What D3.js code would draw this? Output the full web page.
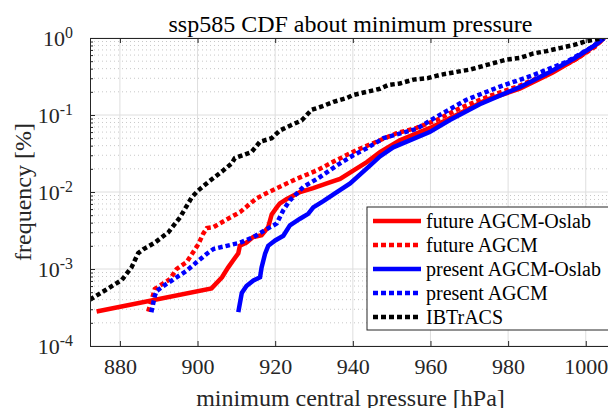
<!DOCTYPE html>
<html>
<head>
<meta charset="utf-8">
<script src="https://cdn.jsdelivr.net/npm/d3@7"></script>
<style>
  body { margin: 0; background: #fff; }
  svg { display: block; }
  svg text { font-family: "Liberation Serif", "Times New Roman", serif !important; }
</style>
</head>
<body>
<svg id="chart" width="608" height="408"></svg>
<script>
// values (pressure in hPa, frequency)
const xTicks = [880, 900, 920, 940, 960, 980, 1000];
const yTicks = [1e-4, 1e-3, 1e-2, 1e-1, 1];

const futureOslabP = [874.0, 903.6, 906.3, 907.9, 909.2, 910.5, 910.9, 912.6, 914.3, 916.5, 918.2, 919.1, 920.4, 921.2, 923.0, 926.4, 929.8, 933.3, 936.7, 940.1, 943.6, 947.0, 952.1, 959.9, 966.7, 974.5, 983.0, 991.5, 998.5, 1003.6, 1004.7];
const futureOslabF = [2.8e-4, 5.6e-4, 7.8e-4, 1.05e-3, 1.3e-3, 1.6e-3, 2.0e-3, 2.2e-3, 2.6e-3, 2.75e-3, 3.5e-3, 5.1e-3, 6.3e-3, 7.1e-3, 8.1e-3, 1.0e-2, 1.12e-2, 1.29e-2, 1.48e-2, 1.9e-2, 2.45e-2, 3.3e-2, 4.7e-2, 6.8e-2, 0.10, 0.158, 0.219, 0.355, 0.575, 0.89, 1.0];

const futureP = [887.3, 889.0, 892.9, 894.6, 897.2, 898.9, 900.2, 901.5, 902.4, 904.1, 907.5, 911.0, 915.2, 920.4, 925.5, 930.7, 935.8, 941.0, 946.1, 951.3, 956.4, 961.6, 967.6, 975.3, 983.0, 990.8, 997.2, 1002.4, 1004.7];
const futureF = [2.8e-4, 5.5e-4, 7.4e-4, 1.0e-3, 1.23e-3, 1.66e-3, 2.1e-3, 2.9e-3, 3.4e-3, 3.5e-3, 4.4e-3, 5.5e-3, 8.3e-3, 1.12e-2, 1.48e-2, 1.9e-2, 2.6e-2, 3.5e-2, 4.5e-2, 5.8e-2, 6.8e-2, 8.6e-2, 0.123, 0.177, 0.24, 0.355, 0.52, 0.77, 1.0];

const presentOslabP = [910.5, 911.4, 912.6, 914.4, 916.1, 916.5, 917.4, 918.2, 920.0, 922.1, 923.8, 926.4, 928.5, 929.8, 932.4, 935.4, 939.3, 944.4, 947.0, 950.4, 959.8, 965.0, 972.7, 983.0, 990.8, 997.2, 1002.4, 1004.7];
const presentOslabF = [2.75e-4, 4.9e-4, 6.0e-4, 7.1e-4, 7.8e-4, 1.05e-3, 1.58e-3, 2.0e-3, 2.35e-3, 2.7e-3, 3.7e-3, 4.5e-3, 5.2e-3, 6.3e-3, 7.6e-3, 9.6e-3, 1.29e-2, 2.2e-2, 2.9e-2, 3.8e-2, 6.0e-2, 8.6e-2, 0.138, 0.23, 0.363, 0.55, 0.81, 1.0];

const presentP = [888.1, 889.0, 889.5, 892.0, 894.6, 897.2, 899.8, 902.4, 904.1, 907.5, 911.0, 914.4, 917.4, 920.4, 922.1, 923.8, 927.3, 930.7, 936.7, 940.1, 943.6, 947.9, 956.4, 961.6, 969.3, 977.9, 986.5, 995.1, 1001.9, 1004.7];
const presentF = [2.75e-4, 4.5e-4, 5.2e-4, 6.4e-4, 7.8e-4, 9.5e-4, 1.23e-3, 1.58e-3, 1.82e-3, 2.0e-3, 2.2e-3, 2.6e-3, 3.2e-3, 3.9e-3, 5.8e-3, 7.8e-3, 1.17e-2, 1.47e-2, 2.35e-2, 3.0e-2, 3.7e-2, 5.0e-2, 6.6e-2, 9.5e-2, 0.158, 0.234, 0.33, 0.49, 0.78, 1.0];

const ibtracsP = [872.3, 880.5, 883.0, 884.7, 886.0, 889.0, 892.5, 895.5, 898.5, 900.2, 902.8, 906.6, 908.8, 909.6, 913.9, 916.1, 919.1, 921.2, 924.2, 926.8, 929.4, 932.0, 935.0, 938.4, 940.1, 943.6, 947.0, 949.1, 952.1, 955.6, 959.4, 962.4, 966.7, 970.2, 974.5, 979.6, 983.0, 986.5, 989.9, 993.3, 996.8, 1000.2, 1004.5];
const ibtracsF = [4.0e-4, 7.2e-4, 1.05e-3, 1.6e-3, 1.8e-3, 2.2e-3, 3.0e-3, 4.7e-3, 8.5e-3, 1.05e-2, 1.35e-2, 1.9e-2, 2.35e-2, 2.75e-2, 3.3e-2, 4.5e-2, 5.0e-2, 6.3e-2, 7.4e-2, 8.5e-2, 0.117, 0.129, 0.148, 0.166, 0.182, 0.20, 0.219, 0.245, 0.257, 0.288, 0.302, 0.331, 0.363, 0.389, 0.447, 0.525, 0.55, 0.63, 0.676, 0.74, 0.81, 0.91, 1.0];

const seriesNames = ["future AGCM-Oslab", "future AGCM", "present AGCM-Oslab", "present AGCM", "IBTrACS"];
const seriesColors = ["#ff0000", "#ff0000", "#0000ff", "#0000ff", "#000000"];
const seriesDotted = [false, true, false, true, true];
const seriesP = [futureOslabP, futureP, presentOslabP, presentP, ibtracsP];
const seriesF = [futureOslabF, futureF, presentOslabF, presentF, ibtracsF];

const svg = d3.select("#chart");
const margin = { top: 38, right: -3, bottom: 62, left: 90 };
const width = 608 - margin.left - margin.right;
const height = 408 - margin.top - margin.bottom;
const axisColor = "#262626";

const x = d3.scaleLinear().domain([872.3, 1006.5]).range([0, width]);
const y = d3.scaleLog().domain([1e-4, 1]).range([height, 0]);

const g = svg.append("g").attr("transform", `translate(${margin.left},${margin.top})`);

svg.append("defs").append("clipPath").attr("id", "plot-clip")
  .append("rect").attr("width", width).attr("height", height);

// minor y grid (dotted)
const minorY = [];
for (let e = -4; e < 0; e++) for (let m = 2; m <= 9; m++) minorY.push(m * Math.pow(10, e));

g.append("g").selectAll("line").data(minorY).enter().append("line")
  .attr("x1", 0).attr("x2", width)
  .attr("y1", d => y(d)).attr("y2", d => y(d))
  .attr("stroke", "#c8c8c8").attr("stroke-width", 1).attr("stroke-dasharray", "1,3");

// major grid
g.append("g").selectAll("line").data(xTicks).enter().append("line")
  .attr("x1", d => x(d)).attr("x2", d => x(d)).attr("y1", 0).attr("y2", height)
  .attr("stroke", "#dedede").attr("stroke-width", 1);
g.append("g").selectAll("line").data(yTicks).enter().append("line")
  .attr("x1", 0).attr("x2", width).attr("y1", d => y(d)).attr("y2", d => y(d))
  .attr("stroke", "#dedede").attr("stroke-width", 1);

// curves
const line = d3.line().x(d => x(d[0])).y(d => y(d[1]));
const curves = g.append("g").attr("clip-path", "url(#plot-clip)");
seriesNames.forEach((name, i) => {
  const pts = seriesP[i].map((p, j) => [p, seriesF[i][j]]);
  curves.append("path")
    .datum(pts)
    .attr("d", line)
    .attr("fill", "none")
    .attr("stroke", seriesColors[i])
    .attr("stroke-width", 4.5)
    .attr("stroke-dasharray", seriesDotted[i] ? "4.5,3" : null);
});

// axes
const xAxisB = d3.axisBottom(x).tickValues(xTicks).tickSize(-5).tickPadding(12).tickFormat(d3.format("d"));
const xAxisT = d3.axisTop(x).tickValues(xTicks).tickSize(-5).tickFormat("");
const yAxis = d3.axisLeft(y).tickValues(yTicks).tickSize(-5).tickPadding(17);
const yMinor = d3.axisLeft(y).tickValues(minorY).tickSize(-3).tickFormat("");

g.append("g").attr("transform", `translate(0,${height})`).call(xAxisB);
g.append("g").call(xAxisT);
g.append("g").call(yMinor);
const yg = g.append("g").call(yAxis);

yg.selectAll(".tick text").each(function(d) {
  const t = d3.select(this);
  t.text("10");
  t.append("tspan").attr("dy", "-0.5em").attr("font-size", "0.72em").text(Math.round(Math.log10(d)));
});

g.selectAll(".domain").attr("stroke", axisColor);
g.selectAll(".tick line").attr("stroke", axisColor);
g.selectAll(".tick text").attr("fill", axisColor).attr("font-size", 22);

// labels
svg.append("text")
  .attr("x", margin.left + width / 2)
  .attr("y", 32)
  .attr("text-anchor", "middle")
  .attr("font-size", 24)
  .attr("fill", "#000")
  .text("ssp585 CDF about minimum pressure");

svg.append("text")
  .attr("x", margin.left + width / 2)
  .attr("y", 406)
  .attr("text-anchor", "middle")
  .attr("font-size", 24)
  .attr("fill", axisColor)
  .text("minimum central pressure [hPa]");

svg.append("text")
  .attr("transform", `translate(31,${margin.top + height / 2}) rotate(-90)`)
  .attr("text-anchor", "middle")
  .attr("font-size", 24)
  .attr("fill", axisColor)
  .text("frequency [%]");

// legend
const legend = svg.append("g").attr("transform", "translate(367,207)");
legend.append("rect")
  .attr("width", 260).attr("height", 123)
  .attr("fill", "#fff").attr("stroke", axisColor).attr("stroke-width", 1);

const rows = legend.selectAll(".row").data(seriesNames).enter().append("g")
  .attr("class", "row")
  .attr("transform", (d, i) => `translate(0,${14 + i * 24})`);
rows.append("line")
  .attr("x1", 6).attr("x2", 54).attr("y1", 0).attr("y2", 0)
  .attr("stroke", (d, i) => seriesColors[i])
  .attr("stroke-width", 4.5)
  .attr("stroke-dasharray", (d, i) => seriesDotted[i] ? "5,3" : null);
rows.append("text")
  .attr("x", 59).attr("y", 7)
  .attr("font-size", 20)
  .attr("fill", "#000")
  .text(d => d);
</script>
</body>
</html>
